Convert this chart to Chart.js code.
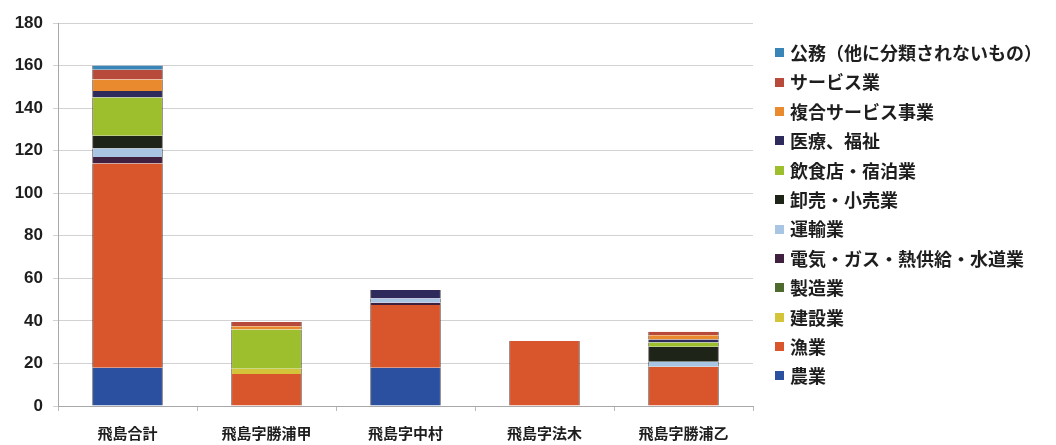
<!DOCTYPE html>
<html lang="ja">
<head>
<meta charset="utf-8">
<title>飛島 産業別事業所数</title>
<script src="https://cdn.jsdelivr.net/npm/chart.js@4.4.1/dist/chart.umd.min.js"></script>
<style>
  html, body { margin: 0; padding: 0; background: #ffffff; }
  #wrap { position: relative; width: 1056px; height: 445px; }
  #chart { position: absolute; left: 0; top: 0; }
  #legend {
    position: absolute; left: 775px; top: 38px; margin: 0; padding: 0; list-style: none;
    font-family: "Noto Sans CJK JP", sans-serif; font-weight: 700; font-size: 18px; color: #1e1e1e;
  }
  #legend li { height: 29.4px; line-height: 29.4px; white-space: nowrap; display: flex; align-items: center; }
  #legend .sw { display: inline-block; width: 9px; height: 9px; margin-right: 6px; flex: none; }
</style>
</head>
<body>
<div id="wrap">
  <canvas id="chart" width="1056" height="445"></canvas>
  <ul id="legend"></ul>
</div>
<script>
// 地区
const categories = ['飛島合計', '飛島字勝浦甲', '飛島字中村', '飛島字法木', '飛島字勝浦乙'];

// 産業別の事業所数(下から積み上げる順)
const nogyo    = [18,   0,   18,   0,    0];    // 農業
const gyogyo   = [96,   15,  29.5, 30.5, 18.5]; // 漁業
const kensetsu = [0,    2.5, 0,    0,    0];    // 建設業
const seizo    = [0,    0,   0,    0,    0];    // 製造業
const denki    = [3,    0,   1,    0,    0];    // 電気・ガス・熱供給・水道業
const unyu     = [4,    0,   2,    0,    2.3];  // 運輸業
const oroshi   = [6,    0,   0,    0,    7];    // 卸売・小売業
const inshoku  = [18,   18.5,0,    0,    2];    // 飲食店・宿泊業
const iryo     = [3,    0,   4,    0,    1.5];  // 医療、福祉
const fukugo   = [5.5,  1.5, 0,    0,    2];    // 複合サービス事業
const service  = [4.5,  2,   0,    0,    1.6];  // サービス業
const komu     = [2,    0,   0,    0,    0];    // 公務(他に分類されないもの)

// 縦軸
const yMin = 0;
const yMax = 180;
const yStep = 20;

const series = [
  { label: '農業', data: nogyo, color: '#2B50A0' },
  { label: '漁業', data: gyogyo, color: '#D9552B' },
  { label: '建設業', data: kensetsu, color: '#D4C43A' },
  { label: '製造業', data: seizo, color: '#4E6A2E' },
  { label: '電気・ガス・熱供給・水道業', data: denki, color: '#40203F' },
  { label: '運輸業', data: unyu, color: '#A8C6E4' },
  { label: '卸売・小売業', data: oroshi, color: '#1E2418' },
  { label: '飲食店・宿泊業', data: inshoku, color: '#9DBE2D' },
  { label: '医療、福祉', data: iryo, color: '#2E2A5C' },
  { label: '複合サービス事業', data: fukugo, color: '#E98A2E' },
  { label: 'サービス業', data: service, color: '#B84A3C' },
  { label: '公務（他に分類されないもの）', data: komu, color: '#3A85B8' }
];

const datasets = series.map(s => ({
  label: s.label,
  data: s.data,
  backgroundColor: s.color,
  borderColor: 'rgba(50,35,35,0.55)',
  borderWidth: { left: 1, right: 1, top: 0, bottom: 0 },
  borderSkipped: false,
  barPercentage: 0.51,
  categoryPercentage: 1.0
}));

const chart = new Chart(document.getElementById('chart'), {
  type: 'bar',
  data: { labels: categories, datasets },
  options: {
    responsive: false,
    animation: false,
    layout: { padding: { left: 0, right: 303, top: 23, bottom: 0 } },
    plugins: {
      legend: { display: false },
      tooltip: { enabled: false }
    },
    scales: {
      x: {
        stacked: true,
        grid: { display: true, drawOnChartArea: false, tickLength: 5, color: '#b8b8b8' },
        border: { display: true, color: '#a8a8a8' },
        ticks: {
          padding: 13,
          color: '#1e1e1e',
          font: { family: '"Noto Sans CJK JP", sans-serif', weight: '700', size: 15 }
        },
        afterFit(scale) { scale.height = 39; }
      },
      y: {
        stacked: true,
        min: yMin,
        max: yMax,
        grid: { color: '#d2d2d2', tickLength: 5 },
        border: { display: true, color: '#a8a8a8' },
        ticks: {
          stepSize: yStep,
          padding: 10,
          color: '#1e1e1e',
          font: { family: '"Liberation Sans", Arial, sans-serif', weight: '700', size: 17 }
        },
        afterFit(scale) { scale.width = 58; }
      }
    }
  }
});

// 凡例: 上から公務 → 農業 の順に並べる
const legendEl = document.getElementById('legend');
chart.data.datasets.slice().reverse().forEach(ds => {
  const li = document.createElement('li');
  const sw = document.createElement('span');
  sw.className = 'sw';
  sw.style.background = ds.backgroundColor;
  li.appendChild(sw);
  li.appendChild(document.createTextNode(ds.label));
  legendEl.appendChild(li);
});
</script>
</body>
</html>
